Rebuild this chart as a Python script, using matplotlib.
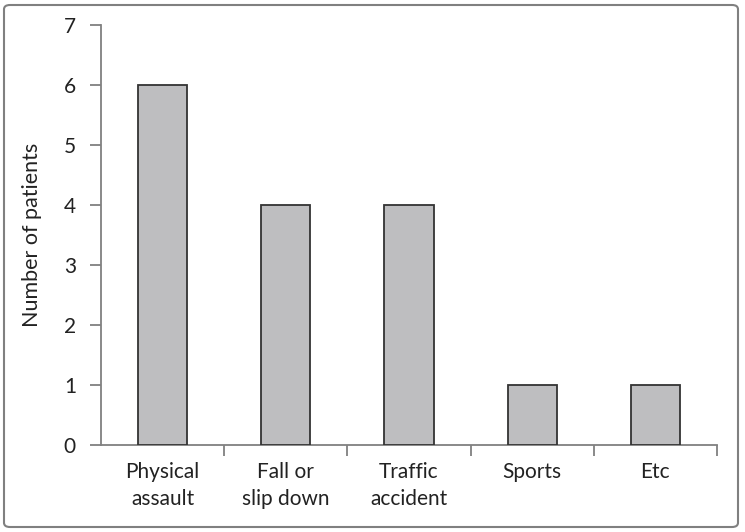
import matplotlib
matplotlib.use("Agg")
import matplotlib.pyplot as plt
from matplotlib.patches import FancyBboxPatch

categories = ["Physical\nassault", "Fall or\nslip down", "Traffic\naccident", "Sports", "Etc"]
values = [6, 4, 4, 1, 1]
yticks = [0, 1, 2, 3, 4, 5, 6, 7]

plt.rcParams['font.family'] = ['Lato', 'DejaVu Sans']

fig = plt.figure(figsize=(7.45, 5.32), dpi=100)
ax = fig.add_axes([101/745, 1-445/532, 616/745, 420/532])

x = list(range(len(categories)))
ax.bar(x, values, width=0.4, color='#bebec0', edgecolor='#333333', linewidth=1.3, zorder=3)

ax.set_xlim(-0.5, len(categories) - 0.5)
ax.set_ylim(0, 7)
ax.set_yticks(yticks)
ax.set_yticklabels([str(t) for t in yticks], fontsize=15, color='#222222')
ax.set_xticks(x)
ax.set_xticklabels(categories, fontsize=15, color='#222222', linespacing=1.45)
ax.set_xticks([i + 0.5 for i in x], minor=True)
ax.tick_params(axis='x', which='major', length=0, pad=12)
ax.tick_params(axis='x', which='minor', length=8, width=1.3, color='#808080', direction='out')
ax.tick_params(axis='y', length=8, width=1.3, color='#808080', direction='out', pad=10)

for s in ['top', 'right']:
    ax.spines[s].set_visible(False)
for s in ['left', 'bottom']:
    ax.spines[s].set_color('#808080')
    ax.spines[s].set_linewidth(1.3)

ax.set_ylabel("Number of patients", fontsize=15.5, color='#222222', labelpad=16)

border = FancyBboxPatch((4/745, 5/532), 734/745, 522/532,
                        boxstyle="round,pad=0,rounding_size=0.008",
                        transform=fig.transFigure, fill=False,
                        edgecolor='#808080', linewidth=1.5)
fig.patches.append(border)

fig.savefig("out.png", dpi=100)
